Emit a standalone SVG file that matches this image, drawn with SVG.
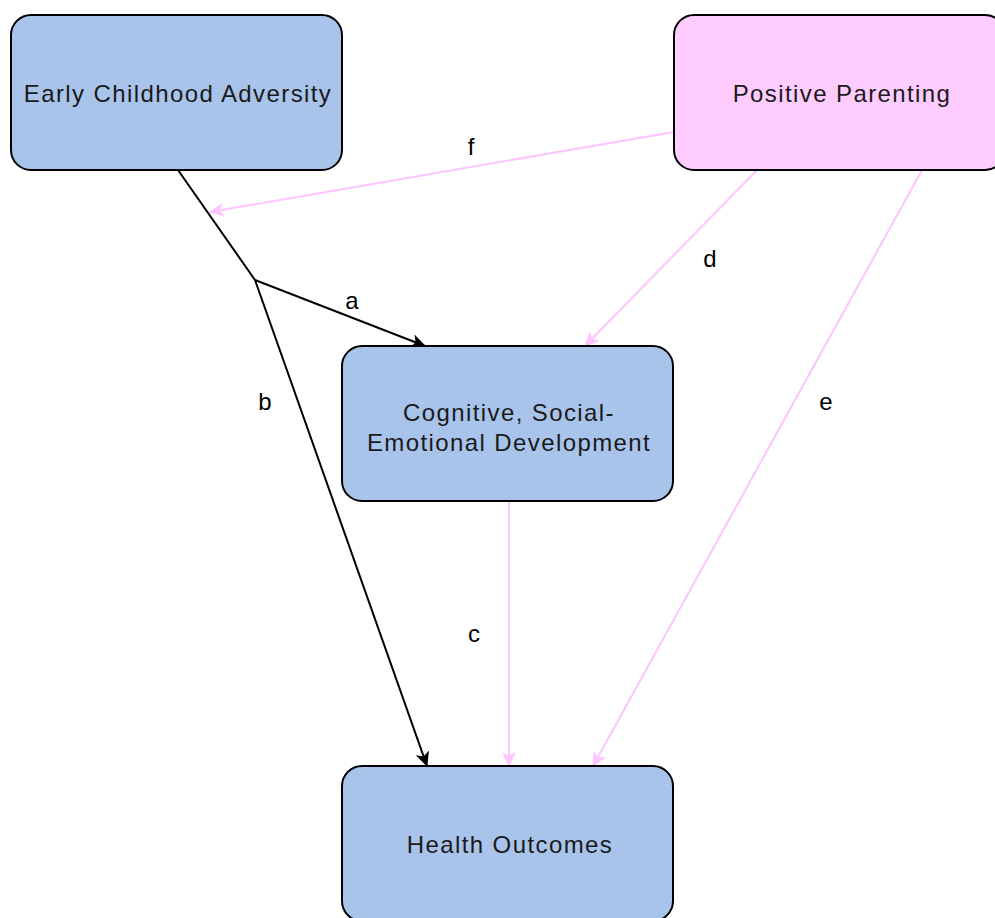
<svg xmlns="http://www.w3.org/2000/svg" width="995" height="918" viewBox="0 0 995 918">
<style>
.box{stroke:#000;stroke-width:2;}
.blue{fill:#A9C4EB;}
.pink{fill:#FFCCFF;}
.t{font-family:"Liberation Sans",Arial,sans-serif;font-size:24px;letter-spacing:1.4px;fill:#1a1a1a;text-anchor:middle;}
.lbl{font-family:"Liberation Sans",Arial,sans-serif;font-size:24px;fill:#000;text-anchor:middle;}
.ek{stroke:#000;stroke-width:2;fill:none;}
.ep{stroke:#FFC4FF;stroke-width:2;fill:none;}
</style>
<defs>
<marker id="ak" markerUnits="userSpaceOnUse" markerWidth="16" markerHeight="14" refX="14" refY="7" orient="auto">
<path d="M0,0 L15,7 L0,14 L4,7 Z" fill="#000"/>
</marker>
<marker id="ap" markerUnits="userSpaceOnUse" markerWidth="16" markerHeight="14" refX="14" refY="7" orient="auto">
<path d="M0,0 L15,7 L0,14 L4,7 Z" fill="#FFC4FF"/>
</marker>
</defs>
<g id="connectors">
<polyline class="ek" points="178,170 255,280"/>
<line class="ek" x1="255" y1="280" x2="425" y2="346" marker-end="url(#ak)"/>
<line class="ek" x1="255" y1="280" x2="427" y2="766" marker-end="url(#ak)"/>
<line class="ep" x1="674" y1="132" x2="210" y2="212" marker-end="url(#ap)"/>
<line class="ep" x1="757" y1="170" x2="585" y2="346" marker-end="url(#ap)"/>
<line class="ep" x1="922" y1="170" x2="593" y2="766" marker-end="url(#ap)"/>
<line class="ep" x1="509" y1="502" x2="509" y2="766" marker-end="url(#ap)"/>
<text class="lbl" x="471" y="155">f</text>
<text class="lbl" x="710" y="267">d</text>
<text class="lbl" x="352" y="309">a</text>
<text class="lbl" x="265" y="410">b</text>
<text class="lbl" x="826" y="410">e</text>
<text class="lbl" x="474" y="642">c</text>
</g>
<g id="early">
<rect class="box blue" x="11" y="15" width="331" height="155" rx="20" ry="20"/>
<text class="t" x="178" y="102">Early Childhood Adversity</text>
</g>
<g id="parenting">
<rect class="box pink" x="674" y="15" width="331" height="155" rx="20" ry="20"/>
<text class="t" x="842" y="102">Positive Parenting</text>
</g>
<g id="development">
<rect class="box blue" x="342" y="346" width="331" height="155" rx="20" ry="20"/>
<text class="t" x="509" y="421">Cognitive, Social-</text>
<text class="t" x="509" y="451">Emotional Development</text>
</g>
<g id="health">
<rect class="box blue" x="342" y="766" width="331" height="155" rx="20" ry="20"/>
<text class="t" x="510" y="853">Health Outcomes</text>
</g>
</svg>
